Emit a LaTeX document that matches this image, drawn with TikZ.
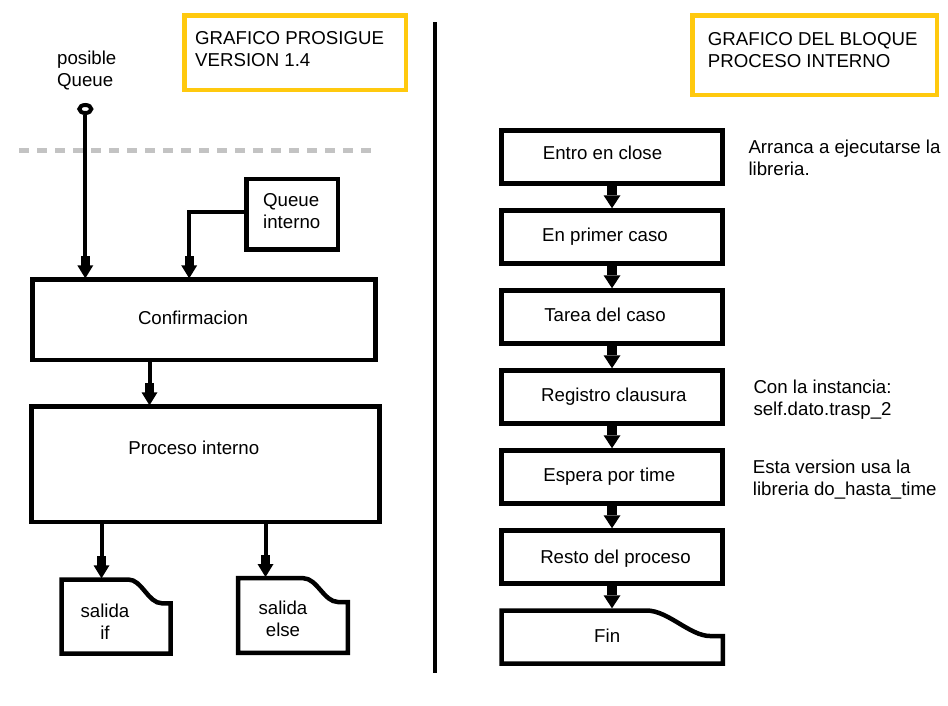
\documentclass[tikz,border=0pt]{standalone}
\usepackage{fontspec}
\setmainfont{Liberation Sans}
\usetikzlibrary{arrows.meta,shapes.geometric,calc}
\definecolor{ybox}{RGB}{255,201,14}
\definecolor{dashgray}{RGB}{195,195,195}
\begin{document}
\begin{tikzpicture}[x=1pt,y=-1pt,
  font=\fontsize{18.67}{22}\selectfont,
  box/.style={draw=black, line width=4.5pt, inner sep=0pt, rectangle},
  ybx/.style={draw=ybox, line width=4.5pt, inner sep=0pt, rectangle},
  area/.style={draw=none, inner sep=0pt, outer sep=0pt, rectangle},
  txt/.style={inner sep=0pt, align=left},
  ctxt/.style={inner sep=0pt, align=center},
  outline/.style={draw=black, line width=4.5pt, line join=miter},
  arr/.style={draw=black, line width=4pt,
    -{Rectangle[width=9pt,length=10pt,sep=-1pt,line width=0pt]Triangle[width=16pt,length=13pt,sep=-1pt,line width=0pt]}},
  rarr/.style={draw=black, line width=9.5pt,
    -{Triangle[width=17pt,length=13pt,sep=0pt,line width=0pt]}},
  rbox/.style={box, minimum width=221pt, minimum height=53pt}
]
\useasboundingbox (0,0) rectangle (948,705);

% ---------- left: titles ----------
\node[ybx, minimum width=221.5pt, minimum height=74.5pt] (y1) at (295,52.5) {};
\node[txt, anchor=west] (y1t) at (195,49.3) {GRAFICO PROSIGUE\\VERSION 1.4};

\node[txt, anchor=west] (pqt) at (57,70.2) {posible\\Queue};

% dashed boundary
\draw[dashgray, line width=4.5pt, dash pattern=on 10pt off 8pt] (19,150.7) -- (372,150.7);

% posible Queue terminal
\node[ellipse, draw=black, fill=white, line width=4pt, minimum width=12pt, minimum height=8pt, inner sep=0pt] (pq) at (85.3,109) {};

% Queue interno
\node[box, minimum width=91.3pt, minimum height=70.5pt] (qi) at (292.2,214.2) {};
\node[txt, anchor=west] (qit) at (263,210.7) {Queue\\interno};

% Confirmacion
\node[box, minimum width=343pt, minimum height=80.5pt] (conf) at (204,319.8) {};
\node[ctxt] (conft) at (193,317.5) {Confirmacion};

% Proceso interno
\node[box, minimum width=348pt, minimum height=115.5pt] (proc) at (205.5,464.3) {};
\node[ctxt] (proct) at (193.8,447.5) {Proceso interno};

% salida documents
\node[area, minimum width=113.4pt, minimum height=78.4pt] (sif) at (116,616.5) {};
\draw[outline] (61.5,579.5) -- (128.3,579.5) .. controls (142,579.5) and (148,603.3) .. (162,603.3) -- (170.5,603.3) -- (170.5,653.5) -- (61.5,653.5) -- cycle;
\node[ctxt] (sift) at (105,621.3) {salida\\if};

\node[area, minimum width=114pt, minimum height=79pt] (sel) at (293,615.5) {};
\draw[outline] (238.2,578.2) -- (303.3,578.2) .. controls (317,578.2) and (324,602) .. (338,602) -- (347.8,602) -- (347.8,652.8) -- (238.2,652.8) -- cycle;
\node[ctxt] (selt) at (283,618.7) {salida\\else};

% left connectors
\coordinate (xq) at (189.2,0);
\coordinate (xc) at (149.5,0);
\coordinate (xa) at (101.5,0);
\coordinate (xb) at (265.5,0);
\draw[arr] (pq) -- (pq |- conf.north);
\draw[arr] ([yshift=2.5pt]qi.west) -| (xq |- conf.north);
\draw[arr] (xc |- conf.south) -- (xc |- proc.north);
\draw[arr] (xa |- proc.south) -- (xa |- sif.north);
\draw[arr] (xb |- proc.south) -- (xb |- sel.north);

% separator
\draw[black, line width=4pt] (435,22) -- (435,673);

% ---------- right ----------
\node[ybx, minimum width=244.5pt, minimum height=79.5pt] (y2) at (814.5,55) {};
\node[txt, anchor=west] (y2t) at (707.7,50.3) {GRAFICO DEL BLOQUE\\PROCESO INTERNO};

\node[rbox] (b1) at (612,157) {};
\node[ctxt] (b1t) at (602.5,153.2) {Entro en close};
\node[rbox] (b2) at (612,237) {};
\node[ctxt] (b2t) at (605,237) {En primer caso};
\node[rbox] (b3) at (612,317) {};
\node[ctxt] (b3t) at (605,314.9) {Tarea del caso};
\node[rbox] (b4) at (612,397) {};
\node[ctxt] (b4t) at (613.8,396.8) {Registro clausura};
\node[rbox] (b5) at (612,477) {};
\node[ctxt] (b5t) at (609.3,476.8) {Espera por time};
\node[rbox] (b6) at (612,557) {};
\node[ctxt] (b6t) at (615.5,558.4) {Resto del proceso};

\node[area, minimum width=225.7pt, minimum height=57.4pt] (fin) at (612,637) {};
\draw[outline] (501.5,610.5) -- (646.7,610.5) .. controls (668,610.5) and (690,636) .. (710,636) -- (722.75,636) -- (722.75,663.5) -- (501.5,663.5) -- cycle;
\node[ctxt] (fint) at (607.2,636) {Fin};

\draw[rarr] (b1) -- (b2);
\draw[rarr] (b2) -- (b3);
\draw[rarr] (b3) -- (b4);
\draw[rarr] (b4) -- (b5);
\draw[rarr] (b5) -- (b6);
\draw[rarr] (b6.south) -- (b6.south |- fin.north);

% notes
\node[txt, anchor=west] (n1) at (748.3,157.4) {Arranca a ejecutarse la\\libreria.};
\node[txt, anchor=west] (n2) at (753.3,399.6) {Con la instancia:\\self.dato.trasp\_2};
\node[txt, anchor=west] (n3) at (752.7,479.2) {Esta version usa la\\libreria do\_hasta\_time};
\end{tikzpicture}
\end{document}
